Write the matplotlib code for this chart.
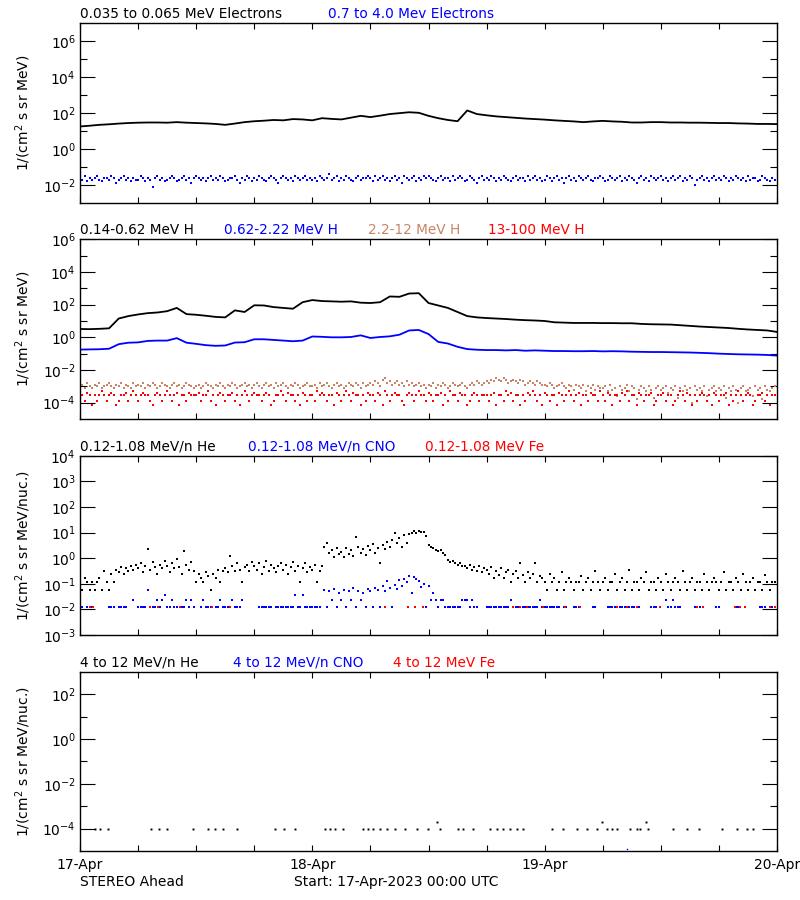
import numpy as np
import matplotlib
matplotlib.use("Agg")
import matplotlib.pyplot as plt
from matplotlib.ticker import FixedLocator, NullFormatter

plt.rcParams['font.family'] = ['DejaVu Sans']
plt.rcParams['mathtext.default'] = 'regular'

# ------------------------------------------------------------------ data
day_labels = ["17-Apr", "18-Apr", "19-Apr", "20-Apr"]
hours_1h = np.arange(73)            # hourly samples, hours since 17-Apr 00:00
hours_15m = np.arange(288) * 0.25   # 15-minute samples

# Panel 1: electrons (log10 of flux)
e_low_log = [1.26,1.30,1.35,1.38,1.42,1.45,1.47,1.48,1.48,1.47,
             1.50,1.47,1.45,1.43,1.40,1.35,1.42,1.50,1.55,1.58,
             1.62,1.60,1.67,1.65,1.60,1.72,1.68,1.65,1.75,1.85,
             1.78,1.86,1.95,2.00,2.05,2.02,1.85,1.72,1.62,1.55,
             2.15,1.95,1.88,1.82,1.78,1.74,1.70,1.67,1.64,1.60,
             1.57,1.54,1.50,1.54,1.57,1.54,1.52,1.48,1.48,1.50,
             1.50,1.48,1.48,1.47,1.47,1.46,1.45,1.45,1.43,1.42,
             1.40,1.40,1.39]
e_high_log10 = [  # tenths of log10
 -16,-17,-15,-18,-16,-17,-16,-15,-17,-18,-16,-16,-17,-15,-16,-19,-17,-16,-15,-17,-16,-18,-16,-17,
 -17,-15,-16,-18,-16,-17,-21,-16,-15,-17,-16,-18,-17,-16,-15,-16,-18,-17,-16,-15,-17,-16,-19,-16,
 -15,-16,-17,-16,-18,-16,-15,-17,-16,-17,-15,-16,-18,-17,-16,-16,-15,-17,-19,-16,-17,-15,-16,-18,
 -16,-17,-15,-16,-17,-18,-16,-15,-16,-17,-19,-16,-15,-16,-17,-16,-18,-15,-16,-17,-16,-15,-17,-16,
 -17,-16,-18,-15,-16,-17,-16,-14,-17,-16,-15,-18,-16,-17,-15,-16,-17,-18,-16,-15,-17,-16,-16,-15,
 -16,-18,-15,-17,-16,-15,-17,-16,-18,-16,-15,-17,-16,-19,-15,-16,-17,-16,-15,-18,-16,-17,-15,-16,
 -15,-16,-17,-18,-16,-15,-17,-16,-16,-18,-15,-17,-16,-15,-16,-18,-17,-15,-16,-17,-19,-16,-15,-17,
 -16,-17,-15,-16,-18,-16,-17,-15,-16,-17,-18,-16,-15,-17,-16,-16,-18,-15,-17,-16,-15,-17,-16,-18,
 -17,-15,-16,-18,-16,-15,-17,-16,-19,-16,-15,-17,-16,-18,-15,-16,-17,-16,-15,-17,-18,-16,-16,-15,
 -16,-18,-17,-15,-16,-17,-16,-15,-18,-16,-17,-15,-16,-17,-19,-16,-15,-17,-16,-18,-15,-16,-17,-16,
 -15,-17,-16,-18,-16,-15,-17,-16,-15,-18,-16,-17,-15,-16,-20,-17,-16,-15,-17,-16,-18,-16,-15,-17,
 -16,-17,-15,-16,-18,-16,-17,-15,-16,-17,-16,-18,-15,-17,-16,-16,-18,-17,-15,-16,-17,-18,-16,-17]

# Panel 2: protons
h_low_log = [0.51,0.50,0.52,0.55,1.15,1.30,1.40,1.48,1.52,1.60,
             1.80,1.42,1.38,1.32,1.25,1.22,1.65,1.55,1.96,1.95,
             1.85,1.80,1.75,2.15,2.28,2.22,2.20,2.18,2.20,2.12,
             2.10,2.15,2.50,2.48,2.68,2.70,2.10,1.95,1.80,1.55,
             1.30,1.22,1.18,1.15,1.12,1.08,1.05,1.03,1.00,0.92,
             0.90,0.88,0.88,0.88,0.87,0.87,0.86,0.86,0.82,0.80,
             0.79,0.78,0.74,0.70,0.66,0.63,0.60,0.57,0.52,0.48,
             0.45,0.42,0.33]
h_mid_log = [-0.75,-0.74,-0.73,-0.70,-0.42,-0.33,-0.31,-0.22,-0.20,-0.20,
             -0.05,-0.33,-0.40,-0.48,-0.52,-0.50,-0.32,-0.30,-0.12,-0.12,
             -0.16,-0.20,-0.24,-0.20,0.05,0.03,0.00,0.00,0.02,0.12,
             -0.04,0.02,0.06,0.16,0.42,0.45,0.20,-0.28,-0.38,-0.58,
             -0.72,-0.76,-0.78,-0.78,-0.80,-0.78,-0.82,-0.80,-0.82,-0.84,
             -0.84,-0.85,-0.85,-0.84,-0.86,-0.85,-0.86,-0.88,-0.89,-0.90,
             -0.90,-0.91,-0.92,-0.93,-0.95,-0.97,-1.00,-1.02,-1.04,-1.05,
             -1.06,-1.08,-1.12]
h_hi_log10 = [  # tenths of log10, 2.2-12 MeV
 -30,-29,-31,-28,-30,-31,-29,-30,-28,-31,-30,-29,-28,-30,-31,-29,-30,-28,-31,-29,-30,-31,-28,-30,
 -29,-30,-28,-31,-29,-30,-28,-29,-31,-30,-28,-29,-30,-31,-29,-28,-30,-29,-31,-30,-28,-29,-30,-31,
 -30,-29,-31,-30,-28,-29,-30,-31,-29,-30,-28,-30,-31,-29,-30,-28,-29,-31,-30,-29,-28,-30,-29,-31,
 -29,-28,-30,-31,-29,-28,-30,-29,-31,-28,-30,-29,-28,-30,-31,-29,-30,-28,-29,-31,-30,-29,-28,-30,
 -30,-29,-31,-28,-30,-29,-28,-30,-31,-29,-28,-30,-29,-31,-30,-28,-29,-30,-28,-29,-31,-28,-30,-29,
 -28,-29,-27,-28,-30,-26,-25,-28,-27,-29,-28,-27,-29,-28,-30,-27,-29,-28,-30,-29,-28,-30,-29,-31,
 -29,-30,-28,-31,-29,-30,-28,-29,-31,-30,-28,-29,-30,-29,-28,-30,-31,-29,-28,-29,-27,-28,-29,-28,
 -27,-28,-26,-27,-25,-26,-27,-25,-26,-28,-27,-26,-27,-28,-26,-27,-29,-28,-27,-28,-29,-27,-28,-29,
 -29,-30,-28,-29,-31,-30,-29,-28,-30,-31,-29,-30,-32,-29,-30,-31,-29,-33,-30,-31,-29,-32,-30,-31,
 -31,-30,-33,-29,-32,-31,-36,-30,-32,-31,-29,-33,-30,-31,-38,-32,-30,-31,-33,-30,-32,-37,-31,-30,
 -32,-31,-30,-34,-31,-32,-30,-37,-31,-33,-30,-32,-31,-40,-30,-32,-31,-33,-30,-36,-32,-31,-30,-33,
 -31,-32,-30,-37,-31,-33,-30,-32,-40,-31,-30,-33,-32,-31,-36,-30,-32,-31,-38,-30,-32,-33,-31,-30]
h_top_log = [  # 13-100 MeV
 -3.55,-3.55,-3.87,-3.40,-3.55,-4.16,-3.55,-3.87,-3.55,-3.30,-3.55,-3.87,-3.55,-3.40,-3.55,-4.16,-3.87,-3.55,-3.55,-3.40,-3.87,-3.55,-3.30,-3.55,
 -3.87,-3.55,-3.40,-3.55,-3.55,-3.87,-4.16,-3.55,-3.40,-3.55,-3.87,-3.55,-3.30,-3.55,-3.87,-3.55,-3.40,-4.16,-3.55,-3.55,-3.87,-3.40,-3.55,-3.55,
 -3.55,-3.40,-3.87,-3.55,-3.55,-3.30,-3.87,-3.55,-4.16,-3.55,-3.40,-3.55,-3.87,-3.55,-3.55,-3.40,-3.87,-3.55,-4.16,-3.55,-3.30,-3.55,-3.87,-3.55,
 -3.40,-3.55,-3.55,-3.87,-3.55,-3.40,-3.55,-4.16,-3.87,-3.55,-3.55,-3.30,-3.55,-3.87,-3.40,-3.55,-3.55,-3.87,-3.55,-4.16,-3.40,-3.55,-3.87,-3.55,
 -3.55,-3.87,-3.30,-3.55,-3.40,-3.55,-3.87,-3.55,-3.55,-4.16,-3.40,-3.55,-3.87,-3.55,-3.30,-3.55,-3.87,-3.40,-3.55,-3.55,-4.16,-3.55,-3.87,-3.40,
 -3.55,-3.55,-3.87,-3.40,-3.55,-4.16,-3.30,-3.55,-3.87,-3.55,-3.40,-3.55,-3.55,-3.87,-4.16,-3.55,-3.40,-3.55,-3.87,-3.55,-3.30,-3.55,-3.55,-3.87,
 -3.40,-3.55,-3.87,-3.55,-3.55,-3.40,-4.16,-3.55,-3.87,-3.30,-3.55,-3.55,-3.87,-3.40,-3.55,-3.55,-4.16,-3.87,-3.55,-3.40,-3.55,-3.87,-3.55,-3.55,
 -3.55,-3.87,-3.55,-3.40,-4.16,-3.55,-3.55,-3.87,-3.30,-3.55,-3.40,-3.87,-3.55,-3.55,-4.16,-3.55,-3.87,-3.40,-3.55,-3.30,-3.55,-3.87,-3.55,-4.16,
 -3.40,-3.55,-3.87,-3.55,-3.55,-4.16,-3.40,-3.55,-3.87,-3.55,-3.30,-3.55,-3.87,-3.55,-3.40,-4.16,-3.55,-3.55,-3.87,-3.40,-3.55,-3.55,-3.87,-3.30,
 -3.55,-3.87,-3.40,-3.55,-4.16,-3.55,-3.55,-3.87,-3.40,-3.55,-3.30,-3.87,-3.55,-3.55,-4.16,-3.40,-3.55,-3.87,-3.55,-3.55,-3.40,-4.16,-3.87,-3.55,
 -3.55,-3.40,-3.87,-3.55,-3.55,-4.16,-3.87,-3.55,-3.30,-3.55,-3.87,-3.40,-3.55,-4.16,-3.55,-3.87,-3.55,-3.40,-3.55,-3.87,-3.55,-4.16,-3.40,-3.55,
 -3.87,-3.55,-3.55,-3.40,-4.16,-3.55,-3.87,-3.55,-3.30,-3.55,-3.87,-3.55,-3.40,-3.55,-4.16,-3.87,-3.55,-3.55,-3.40,-3.87,-3.55,-4.16,-3.55,-3.55]

# Panel 3: 0.12-1.08 MeV/n ions
he_low_log = [
 -0.95,-1.26,-0.78,-0.95,-1.26,-0.95,-1.26,-0.95,-0.78,-1.26,-0.50,-0.95,
 -1.26,-0.62,-0.95,-0.45,-0.55,-0.35,-0.60,-0.40,-0.50,-0.30,-0.45,-0.25,
 -0.40,-0.20,-0.55,-0.30,0.34,-0.45,-0.15,-0.35,-0.60,-0.25,-0.40,-0.10,
 -0.30,-0.55,-0.20,-0.40,-0.05,-0.35,-0.60,0.26,-0.25,-0.45,-0.15,-0.50,
 -0.95,-0.62,-0.78,-0.95,-0.55,-0.70,-1.26,-0.60,-0.78,-0.45,-0.95,-0.50,
 -0.40,-0.55,0.10,-0.30,-0.50,-0.20,-0.45,-0.95,-0.35,-0.25,-0.50,-0.15,
 -0.30,-0.45,-0.20,-0.60,-0.35,-0.10,-0.50,-0.25,-0.40,-0.55,-0.30,-0.20,
 -0.45,-0.25,-0.60,-0.35,-0.15,-0.50,-0.30,-0.95,-0.40,-0.20,-0.55,-0.35,
 -0.45,-0.25,-0.95,-0.50,-0.30,0.45,0.58,0.20,0.32,0.06,0.40,0.15,
 0.25,0.05,0.38,0.18,0.30,0.10,0.84,0.42,0.22,0.35,0.12,0.48,
 0.30,0.55,0.20,0.40,-0.20,0.50,0.35,0.62,0.45,0.70,0.97,0.60,
 0.80,0.45,0.90,0.60,0.95,1.00,1.05,0.98,1.07,1.02,1.04,0.85,
 0.52,0.45,0.38,0.32,0.28,0.30,0.19,0.12,-0.07,-0.15,-0.10,-0.20,
 -0.25,-0.20,-0.32,-0.30,-0.40,-0.28,-0.45,-0.35,-0.50,-0.30,-0.55,-0.40,
 -0.45,-0.60,-0.35,-0.78,-0.50,-0.65,-0.40,-0.78,-0.55,-0.45,-0.95,-0.60,
 -0.50,-0.78,-0.20,-0.65,-0.95,-0.55,-0.78,-0.60,-0.17,-0.95,-0.70,-0.78,
 -0.95,-1.26,-0.60,-0.95,-0.78,-1.26,-0.95,-0.55,-1.26,-0.95,-0.78,-0.95,
 -1.26,-0.95,-0.95,-0.70,-1.26,-0.95,-0.78,-1.26,-0.95,-0.50,-0.95,-1.26,
 -0.95,-0.78,-1.26,-0.95,-0.95,-0.60,-1.26,-0.95,-0.78,-1.26,-0.95,-0.45,
 -1.26,-0.95,-0.95,-1.26,-0.78,-0.95,-0.55,-1.26,-0.95,-0.95,-1.26,-0.78,
 -0.95,-1.26,-0.60,-0.95,-1.26,-0.95,-0.78,-0.95,-1.26,-0.50,-0.95,-1.26,
 -0.95,-0.78,-1.26,-0.95,-0.95,-1.26,-0.60,-0.95,-1.26,-0.95,-0.78,-0.95,
 -1.26,-0.95,-0.55,-1.26,-0.95,-0.95,-1.26,-0.78,-0.95,-1.26,-0.60,-0.95,
 -1.26,-0.95,-0.78,-1.26,-0.95,-0.95,-1.26,-0.65,-0.95,-1.26,-0.95,-0.95]
N = None
cno_low_log = [
 -1.92,-1.92,N,-1.92,-1.92,-1.92,N,N,N,N,N,N,
 -1.92,-1.92,-1.92,N,-1.92,-1.92,-1.92,-1.92,N,N,-1.62,N,
 -1.92,-1.92,-1.92,-1.92,-1.23,-1.92,-1.92,-1.92,-1.62,-1.92,-1.62,-1.43,
 -1.92,-1.92,-1.62,-1.92,-1.92,N,-1.92,-1.92,-1.62,-1.92,-1.62,-1.92,
 N,N,-1.92,-1.62,-1.92,-1.92,-1.92,N,-1.92,-1.92,-1.62,-1.92,
 -1.92,-1.92,N,-1.62,-1.92,-1.92,-1.92,-1.62,N,N,N,N,
 N,N,-1.92,-1.92,-1.92,-1.92,-1.92,-1.92,N,-1.92,-1.92,-1.92,
 -1.92,-1.92,-1.92,-1.92,-1.92,-1.43,-1.92,-1.92,-1.43,-1.92,-1.92,-1.92,
 -1.92,-1.92,-1.92,-1.92,N,-1.25,-1.92,-1.30,-1.62,-1.20,-1.92,-1.35,
 -1.62,-1.25,-1.92,-1.30,-1.62,-1.15,-1.92,-1.28,-1.62,-1.35,-1.92,-1.20,
 -1.30,-1.92,-1.18,-1.25,-1.92,-1.10,-1.30,-0.91,-1.15,-1.92,-1.05,-1.20,
 -0.85,-1.10,-0.80,-0.95,-0.68,-1.35,-0.73,-0.80,-0.88,-1.13,-1.00,-1.92,
 -1.10,-1.62,-1.35,-1.62,-1.92,-1.62,-1.62,-1.92,-1.92,-1.92,-1.92,-1.92,
 -1.92,-1.92,-1.62,-1.62,-1.62,-1.92,-1.62,-1.92,-1.92,N,N,N,
 -1.92,-1.92,-1.92,-1.92,-1.92,-1.92,-1.92,-1.92,-1.92,-1.92,-1.62,-1.92,
 -1.92,-1.92,-1.92,-1.92,-1.92,-1.92,-1.92,-1.92,-1.92,-1.92,-1.62,-1.92,
 -1.92,-1.92,-1.92,-1.92,-1.92,-1.92,-1.92,N,-1.92,-1.92,N,N,
 -1.92,-1.92,-1.92,N,N,N,N,N,-1.92,-1.92,N,N,
 N,N,-1.92,-1.92,-1.92,-1.92,N,-1.92,-1.92,-1.92,-1.92,-1.92,
 -1.92,-1.92,-1.92,-1.92,N,N,N,N,-1.92,-1.92,-1.92,N,
 N,N,-1.62,-1.92,-1.92,-1.62,-1.92,-1.92,-1.92,N,N,N,
 N,N,-1.92,-1.92,-1.92,N,N,N,N,N,N,-1.92,
 -1.92,N,N,N,N,N,N,-1.92,-1.92,N,N,N,
 N,N,N,N,N,-1.92,-1.92,-1.92,N,-1.92,-1.92,-1.92]
fe_low_hours = [1.0, 1.3, 7.2, 8.1, 10.3, 13.6, 15.5, 31.5, 33.9, 34.6, 35.4,
                44.7, 45.5, 46.2, 47.8, 50.1, 51.7, 55.5, 56.5, 57.5, 59.9,
                63.7, 64.4, 67.7, 68.2, 68.7, 71.3, 71.8]
fe_low_log = [-1.92] * len(fe_low_hours)

# Panel 4: 4-12 MeV/n ions
he_high_hours = [1.55, 2.07, 2.89, 7.30, 8.16, 8.96, 11.64, 13.22, 13.95, 14.74,
                 16.19, 20.14, 21.07, 22.21, 25.31, 25.82, 26.34, 27.17, 29.23,
                 29.75, 30.27, 30.99, 31.68, 32.54, 33.57, 34.78, 35.95, 36.85,
                 37.19, 39.05, 39.57, 40.60, 42.36, 43.08, 43.70, 44.42, 45.14,
                 45.76, 48.73, 49.89, 51.31, 52.34, 53.38, 53.89, 54.41, 54.93,
                 55.44, 56.81, 57.51, 57.85, 58.47, 58.68, 61.27, 62.67, 63.90,
                 66.29, 67.84, 68.87, 69.55]
he_high_log = [-4.0] * len(he_high_hours)
he_high_log[27] = -3.7
he_high_log[43] = -3.7
he_high_log[50] = -3.7
cno_high_hours = [56.54]
cno_high_log = [-4.89]

BLACK, BLUE, TAN, RED = '#000000', '#0000ff', '#c98466', '#ff0000'

# ------------------------------------------------------------------ figure
W, H = 800.0, 900.0
fig = plt.figure(figsize=(8, 9), dpi=100)


def px_axes(l, t, r, b):
    return fig.add_axes([l / W, 1 - b / H, (r - l) / W, (b - t) / H])


def setup(ax, ylim, major, minor, ylabel, show_x):
    ax.set_xlim(0, 72)
    ax.set_yscale('log')
    ax.set_ylim(*ylim)
    ax.yaxis.set_major_locator(FixedLocator([10.0 ** e for e in major]))
    ax.set_yticklabels(['$10^{%d}$' % e for e in major])
    ax.yaxis.set_minor_locator(FixedLocator([10.0 ** e for e in minor]))
    ax.yaxis.set_minor_formatter(NullFormatter())
    ax.tick_params(axis='y', which='major', direction='in', length=10.8,
                   width=0.8, left=True, right=True, labelsize=10, pad=3)
    ax.tick_params(axis='y', which='minor', direction='in', length=5,
                   width=0.8, left=True, right=True)
    ax.set_xticks([0, 24, 48, 72])
    ax.set_xticks(np.arange(0, 73, 6), minor=True)
    ax.tick_params(axis='x', which='both', direction='in', top=True,
                   bottom=True, length=4, width=0.8, labelsize=10, pad=5)
    if show_x:
        ax.set_xticklabels(day_labels)
    else:
        ax.set_xticklabels([])
    for s in ax.spines.values():
        s.set_linewidth(1.0)
    ax.set_ylabel(ylabel, fontsize=10)
    ax.yaxis.set_label_coords((33 - 80) / 697.0, 0.5)


def line(ax, t, logv, color):
    ax.plot(t, 10.0 ** np.asarray(logv, dtype=float), color=color, lw=1.3)


def dots(ax, t, logv, color, ms=2.0):
    ax.plot(t, 10.0 ** np.asarray(logv, dtype=float), ls='none', marker='s',
            ms=ms, mew=0, color=color)


def title(x, y, s, c):
    fig.text(x / W, 1 - y / H, s, color=c, fontsize=9.8, ha='left', va='baseline')


lab1 = '1/(cm$^2$ s sr MeV)'
lab2 = '1/(cm$^2$ s sr MeV/nuc.)'

ax1 = px_axes(80, 23.3, 777, 203)
setup(ax1, (1e-3, 1e7), [-2, 0, 2, 4, 6], [-1, 1, 3, 5], lab1, False)
line(ax1, hours_1h, e_low_log, BLACK)
dots(ax1, hours_15m, np.array(e_high_log10) / 10.0, BLUE)
title(80, 18.3, '0.035 to 0.065 MeV Electrons', BLACK)
title(328, 18.3, '0.7 to 4.0 Mev Electrons', BLUE)

ax2 = px_axes(80, 239.3, 777, 419)
setup(ax2, (1e-5, 1e6), [-4, -2, 0, 2, 4, 6], [-3, -1, 1, 3, 5], lab1, False)
line(ax2, hours_1h, h_low_log, BLACK)
line(ax2, hours_1h, h_mid_log, BLUE)
dots(ax2, hours_15m, np.array(h_hi_log10) / 10.0, TAN)
dots(ax2, hours_15m, h_top_log, RED)
title(80, 234.3, '0.14-0.62 MeV H', BLACK)
title(224, 234.3, '0.62-2.22 MeV H', BLUE)
title(368, 234.3, '2.2-12 MeV H', TAN)
title(488, 234.3, '13-100 MeV H', RED)

ax3 = px_axes(80, 455.7, 777, 635)
setup(ax3, (1e-3, 1e4), [-3, -2, -1, 0, 1, 2, 3, 4], [], lab2, False)
dots(ax3, hours_15m, he_low_log, BLACK)
dots(ax3, hours_15m, cno_low_log, BLUE)
dots(ax3, fe_low_hours, fe_low_log, RED)
title(80, 450.7, '0.12-1.08 MeV/n He', BLACK)
title(248, 450.7, '0.12-1.08 MeV/n CNO', BLUE)
title(425, 450.7, '0.12-1.08 MeV Fe', RED)

ax4 = px_axes(80, 671.7, 777, 851)
setup(ax4, (1e-5, 1e3), [-4, -2, 0, 2], [-3, -1, 1], lab2, True)
dots(ax4, he_high_hours, he_high_log, BLACK, ms=1.4)
dots(ax4, cno_high_hours, cno_high_log, BLUE, ms=1.0)
title(80, 666.7, '4 to 12 MeV/n He', BLACK)
title(232.7, 666.7, '4 to 12 MeV/n CNO', BLUE)
title(393, 666.7, '4 to 12 MeV Fe', RED)

fig.text(80 / W, 1 - 886 / H, 'STEREO Ahead', fontsize=10, va='baseline')
fig.text(294 / W, 1 - 886 / H, 'Start: 17-Apr-2023 00:00 UTC', fontsize=10,
         va='baseline')

fig.savefig('out.png', dpi=100)
